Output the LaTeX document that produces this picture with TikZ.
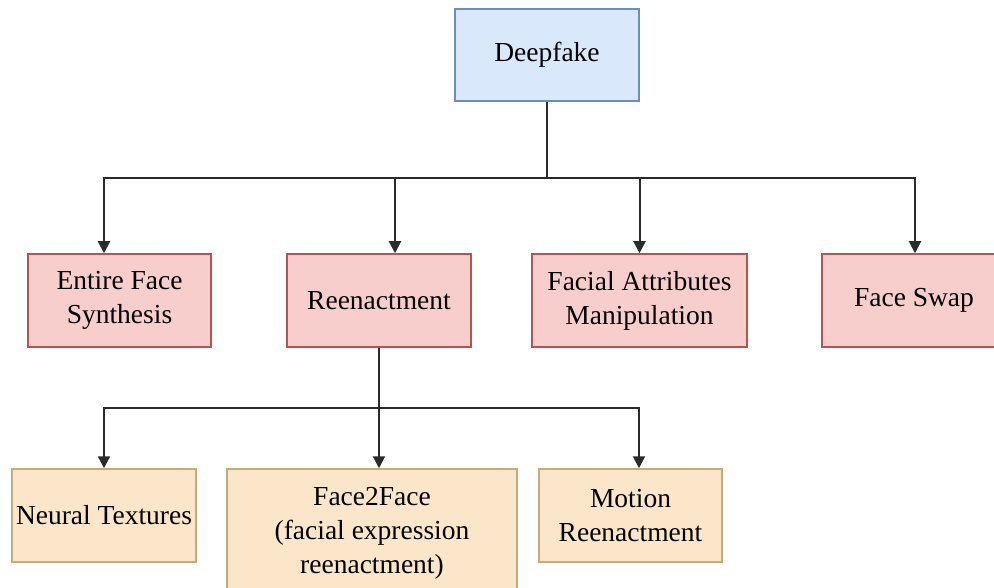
\documentclass[tikz,border=0pt]{standalone}
\usepackage{fontspec}
\setmainfont{Liberation Serif}
\usetikzlibrary{arrows.meta}
\definecolor{topfill}{HTML}{DAE8FC}
\definecolor{topline}{HTML}{6C8EBF}
\definecolor{midfill}{HTML}{F8CECC}
\definecolor{midline}{HTML}{B85450}
\definecolor{lowfill}{HTML}{FCE6C9}
\definecolor{lowline}{HTML}{C9AA7A}
\definecolor{wire}{HTML}{2B2B2B}
\begin{document}
\begin{tikzpicture}[x=1pt,y=-1pt,
  box/.style={draw, line width=1.5pt, align=center, inner sep=0pt,
    font=\fontsize{27.5}{34}\selectfont, text=black},
  rootbox/.style={box, fill=topfill, draw=topline},
  catbox/.style={box, fill=midfill, draw=midline},
  leafbox/.style={box, fill=lowfill, draw=lowline},
  link/.style={draw=wire, line width=2pt},
  arr/.style={link, -{Triangle[length=12pt,width=12pt]}}]
\useasboundingbox (0,0) rectangle (994,588);

% root
\node[rootbox, minimum width=184pt, minimum height=92pt] (df) at (547,55) {Deepfake};

% deepfake categories
\node[catbox, minimum width=183pt, minimum height=93pt] (efs) at (119.5,300.5) {Entire Face\\Synthesis};
\node[catbox, minimum width=184pt, minimum height=93pt] (ree) at (379,300.5) {Reenactment};
\node[catbox, minimum width=215pt, minimum height=93pt] (fam) at (639.5,300.5) {Facial Attributes\\Manipulation};
\node[catbox, minimum width=184pt, minimum height=93pt] (fsw) at (914,300.5) {Face Swap};

% reenactment methods
\node[leafbox, minimum width=184pt, minimum height=93pt] (nt) at (104,515.5) {Neural Textures};
\node[leafbox, minimum width=290pt, minimum height=128pt] (f2f) at (372,533) {Face2Face\\(facial expression\\reenactment)};
\node[leafbox, minimum width=183pt, minimum height=93pt] (mr) at (630.5,515.5) {Motion\\Reenactment};

% first level bus
\coordinate (j1) at (547,178);
\draw[link] (df.south) -- (j1);
\draw[arr] (j1) -| ([xshift=-15.5pt]efs.north);
\draw[arr] (j1) -| ([xshift=16pt]ree.north);
\draw[arr] (j1) -| (fam.north);
\draw[arr] (j1) -| ([xshift=1pt]fsw.north);

% second level bus
\coordinate (j2) at (379,408);
\draw[link] (ree.south) -- (j2);
\draw[arr] (j2) -| (nt.north);
\draw[arr] (j2) -| ([xshift=7pt]f2f.north);
\draw[arr] (j2) -| ([xshift=8.5pt]mr.north);
\end{tikzpicture}
\end{document}
